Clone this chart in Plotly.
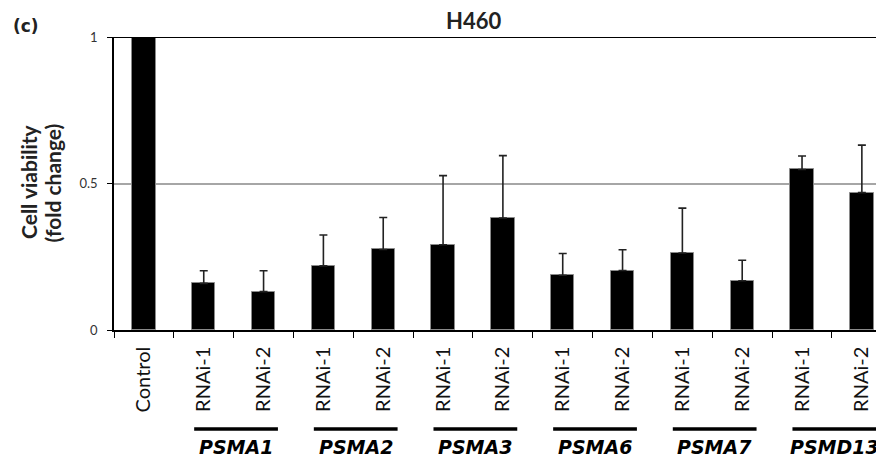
import plotly.graph_objects as go

# ---- data ----
labels = ["Control", "RNAi-1", "RNAi-2", "RNAi-1", "RNAi-2", "RNAi-1", "RNAi-2",
          "RNAi-1", "RNAi-2", "RNAi-1", "RNAi-2", "RNAi-1", "RNAi-2"]
values = [1.0, 0.159, 0.131, 0.219, 0.275, 0.291, 0.382, 0.187, 0.203, 0.263, 0.168, 0.548, 0.469]
errors = [0.0, 0.043, 0.071, 0.105, 0.109, 0.236, 0.213, 0.074, 0.071, 0.153, 0.070, 0.046, 0.162]
groups = ["PSMA1", "PSMA2", "PSMA3", "PSMA6", "PSMA7", "PSMD13"]
group_members = [(1, 2), (3, 4), (5, 6), (7, 8), (9, 10), (11, 12)]
y_ticks = [0, 0.5, 1]
y_ticktext = ["0", "0.5", "1"]

x_idx = list(range(len(labels)))
x_range = [-0.5, 12.37]

# page offset (browser body margin) compensation
OFF = 8
FIG_W, FIG_H = 884 - OFF, 458 - OFF
PL, PT, PB = 114, 37, 330           # plot box in window pixels
PW = 884 - PL
PH = PB - PT


def px(X):
    return (X - PL) / PW


def py(Y):
    return (PB - Y) / PH


fig = go.Figure()
fig.add_trace(go.Bar(
    x=x_idx, y=values, width=0.39,
    marker=dict(color="black", line=dict(color="#8a8a8a", width=1)),
    error_y=dict(type="data", array=errors, arrayminus=[0] * len(errors),
                 symmetric=False, color="#222222", thickness=1.6, width=4),
    showlegend=False,
))

# boundary ticks on an overlaid axis
fig.add_trace(go.Scatter(x=[x_range[0]], y=[0], xaxis="x2", mode="markers",
                         marker=dict(opacity=0), showlegend=False, hoverinfo="skip"))

fig.update_layout(
    width=FIG_W, height=FIG_H,
    margin=dict(l=PL - OFF, r=0, t=PT - OFF, b=FIG_H - (PB - OFF), autoexpand=False),
    plot_bgcolor="white", paper_bgcolor="white",
    bargap=0,
    xaxis=dict(range=x_range, tickmode="array", tickvals=x_idx, ticktext=labels,
               tickangle=-90, ticks="", showgrid=False, zeroline=False,
               showline=True, linecolor="black", linewidth=1.5, ticklabelstandoff=7,
               tickfont=dict(family="Lato", size=20, color="#111")),
    xaxis2=dict(range=x_range, overlaying="x", side="bottom", tickmode="array",
                tickvals=[i - 0.5 for i in x_idx], ticks="outside", ticklen=7,
                tickwidth=1.2, tickcolor="black", showticklabels=False,
                showgrid=False, zeroline=False, showline=False),
    yaxis=dict(range=[0, 1], tickmode="array", tickvals=y_ticks, ticktext=y_ticktext,
               ticks="outside", ticklen=5, tickcolor="black", tickwidth=1.2,
               showgrid=True, gridcolor="#a6a6a6", gridwidth=1.5, ticklabelstandoff=7,
               zeroline=False, showline=True, linecolor="black", linewidth=1.5,
               tickfont=dict(family="Lato", size=13, color="#333")),
)

# top line at y = 1 (dark)
fig.add_shape(type="line", xref="paper", yref="y", x0=0, x1=1, y0=1, y1=1,
              line=dict(color="black", width=1.8))

# title
fig.add_annotation(text="<b>H460</b>", xref="paper", yref="paper",
                   x=px(473), y=py(20.5), showarrow=False, borderpad=0,
                   xanchor="center", yanchor="middle",
                   font=dict(family="Lato", size=22, color="#222"))

# y-axis title (two lines)
fig.add_annotation(text="<b>Cell viability</b>", xref="paper", yref="paper",
                   x=px(28), y=py(182), textangle=-90, showarrow=False,
                   xanchor="center", yanchor="middle",
                   font=dict(family="Lato", size=21, color="#222"))
fig.add_annotation(text="<b>(fold change)</b>", xref="paper", yref="paper",
                   x=px(52), y=py(183.5), textangle=-90, showarrow=False,
                   xanchor="center", yanchor="middle",
                   font=dict(family="Lato", size=21, color="#222"))

# panel label
fig.add_annotation(text="<b>(c)</b>", xref="paper", yref="paper",
                   x=px(11), y=py(26), showarrow=False,
                   xanchor="left", yanchor="middle",
                   font=dict(family="DejaVu Sans", size=17, color="#222"))

# group underline + labels
for name, (a, b) in zip(groups, group_members):
    fig.add_shape(type="line", xref="x", yref="paper", x0=a - 0.16, x1=b + 0.24,
                  y0=py(429), y1=py(429),
                  line=dict(color="black", width=3.5))
    fig.add_annotation(text="<b><i>" + name + "</i></b>", xref="x", yref="paper",
                       x=(a + b) / 2 + 0.04, y=py(447), showarrow=False,
                       xanchor="center", yanchor="middle",
                       font=dict(family="DejaVu Sans", size=19, color="black"))

fig.write_html("out.html")
